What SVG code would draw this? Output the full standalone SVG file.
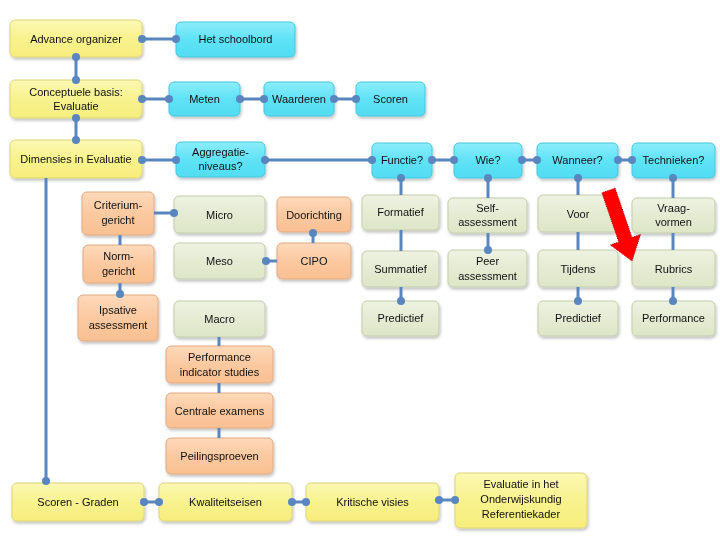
<svg xmlns="http://www.w3.org/2000/svg" width="720" height="540" viewBox="0 0 720 540">
<defs>
<linearGradient id="gy" x1="0" y1="0" x2="0" y2="1"><stop offset="0" stop-color="#fbf8b4"/><stop offset="0.5" stop-color="#f8f28e"/><stop offset="1" stop-color="#f6ee7c"/></linearGradient>
<linearGradient id="gc" x1="0" y1="0" x2="0" y2="1"><stop offset="0" stop-color="#8cedfb"/><stop offset="0.5" stop-color="#5fe2f6"/><stop offset="1" stop-color="#52dcf2"/></linearGradient>
<linearGradient id="gg" x1="0" y1="0" x2="0" y2="1"><stop offset="0" stop-color="#eef3e2"/><stop offset="0.5" stop-color="#e4ebd2"/><stop offset="1" stop-color="#dde6c8"/></linearGradient>
<linearGradient id="go" x1="0" y1="0" x2="0" y2="1"><stop offset="0" stop-color="#fdd9bb"/><stop offset="0.5" stop-color="#fbc9a0"/><stop offset="1" stop-color="#f9c092"/></linearGradient>
<filter id="sh" x="-10%" y="-10%" width="125%" height="135%"><feDropShadow dx="1" dy="2" stdDeviation="1.5" flood-color="#000" flood-opacity="0.25"/></filter>
</defs>
<style>
.b{filter:url(#sh);}
.y{fill:url(#gy);stroke:#ddd575;stroke-width:1;}
.c{fill:url(#gc);stroke:#45c8de;stroke-width:1;}
.g{fill:url(#gg);stroke:#c3cdab;stroke-width:1;}
.o{fill:url(#go);stroke:#e2aa80;stroke-width:1;}
text{font-family:"Liberation Sans",Arial,sans-serif;font-size:11px;fill:#111;text-anchor:middle;}
.ln{stroke:#5a86c0;stroke-width:3;fill:none;}
.d{fill:#5a86c0;}
</style>
<g id="n_adv" class="b"><rect class="y" x="10" y="20" width="132" height="37" rx="5"/><text x="76" y="42.5">Advance organizer</text></g>
<g id="n_concept" class="b"><rect class="y" x="10" y="80" width="132" height="38" rx="5"/><text x="76" y="96">Conceptuele basis:</text><text x="76" y="110">Evaluatie</text></g>
<g id="n_dim" class="b"><rect class="y" x="10" y="140" width="132" height="38" rx="5"/><text x="76" y="163">Dimensies in Evaluatie</text></g>
<g id="n_scoren" class="b"><rect class="y" x="12" y="483" width="132" height="38" rx="5"/><text x="78" y="506">Scoren - Graden</text></g>
<g id="n_kwal" class="b"><rect class="y" x="159" y="483" width="133" height="38" rx="5"/><text x="225.5" y="506">Kwaliteitseisen</text></g>
<g id="n_krit" class="b"><rect class="y" x="306" y="483" width="133" height="38" rx="5"/><text x="372.5" y="506">Kritische visies</text></g>
<g id="n_evalref" class="b"><rect class="y" x="455" y="473" width="132" height="55" rx="5"/><text x="521" y="488">Evaluatie in het</text><text x="521" y="503">Onderwijskundig</text><text x="521" y="518">Referentiekader</text></g>
<g id="n_schoolbord" class="b"><rect class="c" x="176" y="22" width="119" height="35" rx="5"/><text x="235.5" y="43">Het schoolbord</text></g>
<g id="n_meten" class="b"><rect class="c" x="169" y="82" width="71" height="34" rx="5"/><text x="204.5" y="103">Meten</text></g>
<g id="n_waarderen" class="b"><rect class="c" x="264" y="82" width="70" height="34" rx="5"/><text x="299" y="103">Waarderen</text></g>
<g id="n_scoren2" class="b"><rect class="c" x="356" y="82" width="69" height="34" rx="5"/><text x="390.5" y="103">Scoren</text></g>
<g id="n_aggr" class="b"><rect class="c" x="176" y="142" width="89" height="35" rx="5"/><text x="220.5" y="156">Aggregatie-</text><text x="220.5" y="170">niveaus?</text></g>
<g id="n_functie" class="b"><rect class="c" x="372" y="143" width="60" height="35" rx="5"/><text x="402" y="164">Functie?</text></g>
<g id="n_wie" class="b"><rect class="c" x="454" y="143" width="68" height="35" rx="5"/><text x="488" y="164">Wie?</text></g>
<g id="n_wanneer" class="b"><rect class="c" x="537" y="143" width="81" height="35" rx="5"/><text x="577.5" y="164">Wanneer?</text></g>
<g id="n_technieken" class="b"><rect class="c" x="632" y="143" width="83" height="35" rx="5"/><text x="673.5" y="164">Technieken?</text></g>
<g id="n_micro" class="b"><rect class="g" x="174" y="196" width="91" height="37" rx="5"/><text x="219.5" y="218.5">Micro</text></g>
<g id="n_meso" class="b"><rect class="g" x="174" y="243" width="91" height="36" rx="5"/><text x="219.5" y="265">Meso</text></g>
<g id="n_macro" class="b"><rect class="g" x="174" y="301" width="91" height="36" rx="5"/><text x="219.5" y="323">Macro</text></g>
<g id="n_formatief" class="b"><rect class="g" x="362" y="195" width="77" height="35" rx="5"/><text x="400.5" y="216">Formatief</text></g>
<g id="n_self" class="b"><rect class="g" x="448" y="198" width="79" height="35" rx="5"/><text x="487.5" y="212">Self-</text><text x="487.5" y="226">assessment</text></g>
<g id="n_voor" class="b"><rect class="g" x="538" y="195" width="80" height="37" rx="5"/><text x="578" y="217.5">Voor</text></g>
<g id="n_vraag" class="b"><rect class="g" x="632" y="198" width="83" height="35" rx="5"/><text x="673.5" y="212">Vraag-</text><text x="673.5" y="226">vormen</text></g>
<g id="n_summatief" class="b"><rect class="g" x="362" y="251" width="77" height="36" rx="5"/><text x="400.5" y="273">Summatief</text></g>
<g id="n_peer" class="b"><rect class="g" x="448" y="250" width="79" height="37" rx="5"/><text x="487.5" y="265">Peer</text><text x="487.5" y="280">assessment</text></g>
<g id="n_tijdens" class="b"><rect class="g" x="538" y="250" width="80" height="37" rx="5"/><text x="578" y="272.5">Tijdens</text></g>
<g id="n_rubrics" class="b"><rect class="g" x="632" y="250" width="83" height="37" rx="5"/><text x="673.5" y="272.5">Rubrics</text></g>
<g id="n_pred1" class="b"><rect class="g" x="362" y="301" width="77" height="35" rx="5"/><text x="400.5" y="322">Predictief</text></g>
<g id="n_pred2" class="b"><rect class="g" x="538" y="301" width="80" height="35" rx="5"/><text x="578" y="322">Predictief</text></g>
<g id="n_perf" class="b"><rect class="g" x="632" y="301" width="83" height="35" rx="5"/><text x="673.5" y="322">Performance</text></g>
<g id="n_crit" class="b"><rect class="o" x="82" y="192" width="72" height="43" rx="5"/><text x="118" y="209">Criterium-</text><text x="118" y="224">gericht</text></g>
<g id="n_norm" class="b"><rect class="o" x="83" y="245" width="71" height="38" rx="5"/><text x="118.5" y="260">Norm-</text><text x="118.5" y="275">gericht</text></g>
<g id="n_ipsative" class="b"><rect class="o" x="78" y="295" width="80" height="46" rx="5"/><text x="118" y="314">Ipsative</text><text x="118" y="329">assessment</text></g>
<g id="n_doorlichting" class="b"><rect class="o" x="277" y="197" width="74" height="35" rx="5"/><text x="314" y="218.5">Doorichting</text></g>
<g id="n_cipo" class="b"><rect class="o" x="277" y="243" width="74" height="36" rx="5"/><text x="314" y="265">CIPO</text></g>
<g id="n_pis" class="b"><rect class="o" x="166" y="346" width="107" height="37" rx="5"/><text x="219.5" y="361">Performance</text><text x="219.5" y="376">indicator studies</text></g>
<g id="n_centrale" class="b"><rect class="o" x="166" y="393" width="107" height="35" rx="5"/><text x="219.5" y="414.5">Centrale examens</text></g>
<g id="n_peiling" class="b"><rect class="o" x="166" y="438" width="107" height="36" rx="5"/><text x="219.5" y="460">Peilingsproeven</text></g>
<g id="connectors">
<path class="ln" d="M142 39H176M76 57V80M142 99H169M240 99H264M334 99H356M76 118V140M142 160H176M265 160H372M432 160H454M522 160H537M618 160H632M401 178V195M401 230V251M401 287V301M488 178V198M488 233V250M578 178V195M578 232V250M578 287V301M673 178V198M673 233V250M673 287V301M46 178V481M154 213H174M120 235V245M120 283V295M313 232V243M265 261H277M219 337V346M219 383V393M219 428V438M144 502H159M292 502H306M439 500H455"/>
<g class="d">
<circle cx="142" cy="39" r="4"/><circle cx="176" cy="39" r="4"/>
<circle cx="76" cy="57" r="4"/><circle cx="76" cy="80" r="4"/>
<circle cx="142" cy="99" r="4"/><circle cx="169" cy="99" r="4"/>
<circle cx="240" cy="99" r="4"/><circle cx="264" cy="99" r="4"/>
<circle cx="334" cy="99" r="4"/><circle cx="356" cy="99" r="4"/>
<circle cx="76" cy="118" r="4"/><circle cx="76" cy="140" r="4"/>
<circle cx="142" cy="160" r="4"/><circle cx="176" cy="160" r="4"/>
<circle cx="265" cy="160" r="4"/><circle cx="372" cy="160" r="4"/>
<circle cx="432" cy="160" r="4"/><circle cx="454" cy="160" r="4"/>
<circle cx="522" cy="160" r="4"/><circle cx="537" cy="160" r="4"/>
<circle cx="618" cy="160" r="4"/><circle cx="632" cy="160" r="4"/>
<circle cx="401" cy="178" r="4"/><circle cx="401" cy="301" r="4"/>
<circle cx="488" cy="178" r="4"/><circle cx="488" cy="250" r="4"/>
<circle cx="578" cy="178" r="4"/><circle cx="578" cy="301" r="4"/>
<circle cx="673" cy="178" r="4"/><circle cx="673" cy="301" r="4"/>
<circle cx="46" cy="481" r="4"/>
<circle cx="174" cy="213" r="4"/>
<circle cx="120" cy="294" r="4"/>
<circle cx="313" cy="233" r="4"/>
<circle cx="266" cy="261" r="4"/>
<circle cx="144" cy="502" r="4"/><circle cx="159" cy="502" r="4"/>
<circle cx="292" cy="502" r="4"/><circle cx="306" cy="502" r="4"/>
<circle cx="439" cy="500" r="4"/><circle cx="455" cy="500" r="4"/>
</g>
</g>
<polygon id="red_arrow" points="615.1,188.2 632,237.4 640.5,234.5 632,261 610.3,244.9 618.8,242 601.9,192.8" fill="#ff0000" stroke="#c00000" stroke-width="1" stroke-dasharray="1,1"/>
</svg>
